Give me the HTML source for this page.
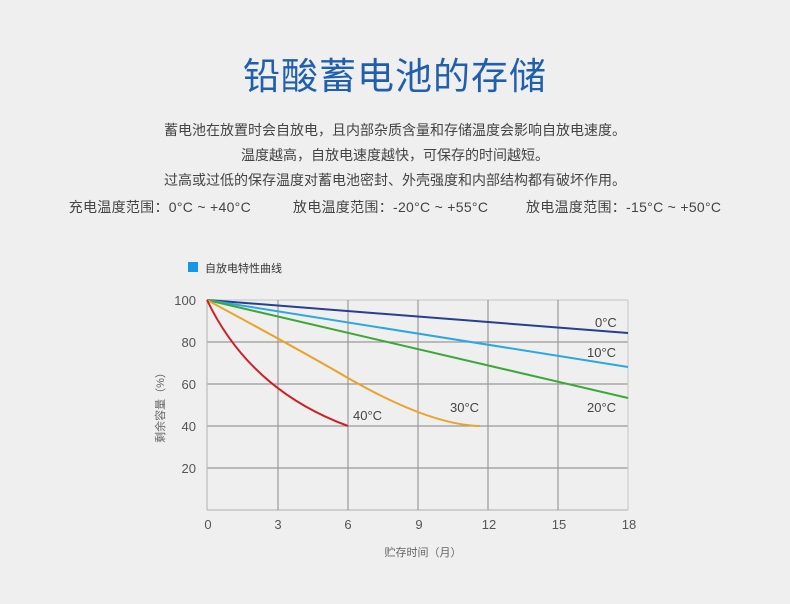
<!DOCTYPE html>
<html><head><meta charset="utf-8"><style>
html,body{margin:0;padding:0}
body{width:790px;height:604px;background:#efefef;position:relative;overflow:hidden;font-family:"Liberation Sans","Noto Sans CJK SC",sans-serif;color:#444}
.t{position:absolute;left:0;width:790px;text-align:center;white-space:nowrap}
</style></head><body>
<div class="t" style="top:46px;font-size:37px;color:#1f5fae;letter-spacing:1px">铅酸蓄电池的存储</div>
<div class="t" style="top:120px;font-size:14px">蓄电池在放置时会自放电，且内部杂质含量和存储温度会影响自放电速度。</div>
<div class="t" style="top:145px;font-size:14px">温度越高，自放电速度越快，可保存的时间越短。</div>
<div class="t" style="top:170px;font-size:14px">过高或过低的保存温度对蓄电池密封、外壳强度和内部结构都有破坏作用。</div>
<div class="t" style="top:197px;font-size:14px;letter-spacing:0.3px">充电温度范围：0°C ~ +40°C &nbsp;&nbsp;&nbsp;&nbsp;&nbsp;&nbsp;&nbsp;&nbsp; 放电温度范围：-20°C ~ +55°C &nbsp;&nbsp;&nbsp;&nbsp;&nbsp;&nbsp;&nbsp; 放电温度范围：-15°C ~ +50°C</div>
<svg width="790" height="604" style="position:absolute;left:0;top:0" font-family="Liberation Sans, Noto Sans CJK SC, sans-serif">
<rect x="188" y="262" width="10" height="10" fill="#1596e8"/>
<text x="205" y="272" font-size="11" fill="#333">自放电特性曲线</text>
<g stroke="#999" stroke-width="1.2">
<line x1="207" y1="300" x2="628" y2="300" stroke="#ccc"/>
<line x1="207" y1="342" x2="628" y2="342"/>
<line x1="207" y1="384" x2="628" y2="384"/>
<line x1="207" y1="426" x2="628" y2="426"/>
<line x1="207" y1="468" x2="628" y2="468"/>
<line x1="207" y1="510" x2="628" y2="510" stroke="#bbb"/>
<line x1="207" y1="300" x2="207" y2="510" stroke="#bbb"/>
<line x1="278" y1="300" x2="278" y2="510"/>
<line x1="348" y1="300" x2="348" y2="510"/>
<line x1="418" y1="300" x2="418" y2="510"/>
<line x1="488" y1="300" x2="488" y2="510"/>
<line x1="558" y1="300" x2="558" y2="510"/>
<line x1="628" y1="300" x2="628" y2="510" stroke="#ccc"/>
</g>
<g font-size="13" fill="#555" text-anchor="end">
<text x="196" y="305">100</text><text x="196" y="347">80</text><text x="196" y="389">60</text><text x="196" y="431">40</text><text x="196" y="473">20</text>
</g>
<g font-size="13" fill="#555" text-anchor="middle">
<text x="208" y="529">0</text><text x="278" y="529">3</text><text x="348" y="529">6</text><text x="419" y="529">9</text><text x="489" y="529">12</text><text x="559" y="529">15</text><text x="629" y="529">18</text>
</g>
<text x="423" y="556" font-size="11" fill="#666" text-anchor="middle">贮存时间（月）</text>
<text transform="translate(164,405) rotate(-90)" font-size="11" fill="#666" text-anchor="middle">剩余容量（%）</text>
<g fill="none" stroke-width="2">
<line x1="207" y1="300" x2="628" y2="333" stroke="#263f8f"/>
<line x1="207" y1="300" x2="628" y2="367" stroke="#2ba8e0"/>
<line x1="207" y1="300" x2="628" y2="398" stroke="#3ca83a"/>
<path d="M207,300 Q300,350 348,378 Q430,425 480,426" stroke="#e8a32a"/>
<path d="M207,300 Q250,390 348,426" stroke="#cc1f24"/>
</g>
<g font-size="13" fill="#444">
<text x="595" y="327">0°C</text><text x="587" y="357">10°C</text><text x="587" y="412">20°C</text><text x="450" y="412">30°C</text><text x="353" y="420">40°C</text>
</g>
</svg>
</body></html>
